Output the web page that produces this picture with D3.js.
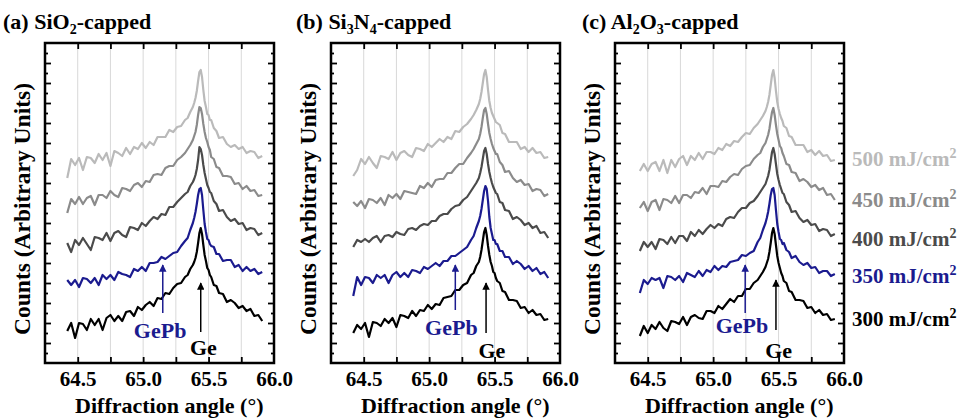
<!DOCTYPE html>
<html>
<head>
<meta charset="utf-8">
<script src="https://cdn.jsdelivr.net/npm/d3@7"></script>
<style>
  html, body { margin: 0; padding: 0; background: #fff; }
  svg { display: block; }
  svg text { font-family: "Liberation Serif", "DejaVu Serif", serif; font-weight: bold; }
</style>
</head>
<body>
<div id="chart"></div>
<script>
// ---- data -------------------------------------------------------------
// diffraction angle grids (deg)
var anglesAB = [
  64.42, 64.45, 64.48, 64.51, 64.54, 64.57, 64.60, 64.63, 64.66, 64.69,
  64.72, 64.75, 64.78, 64.81, 64.84, 64.87, 64.90, 64.93, 64.96, 64.99,
  65.02, 65.05, 65.08, 65.11, 65.14, 65.17, 65.20, 65.23, 65.26, 65.29,
  65.32, 65.34, 65.36, 65.38, 65.39, 65.40, 65.41, 65.42, 65.43, 65.44,
  65.45, 65.46, 65.47, 65.48, 65.49, 65.50, 65.51, 65.52, 65.54, 65.56,
  65.58, 65.61, 65.64, 65.67, 65.70, 65.73, 65.76, 65.79, 65.82, 65.85,
  65.88, 65.91];
var anglesC = [
  64.44, 64.47, 64.50, 64.53, 64.56, 64.59, 64.62, 64.65, 64.68, 64.71,
  64.74, 64.77, 64.80, 64.83, 64.86, 64.89, 64.92, 64.95, 64.98, 65.01,
  65.04, 65.07, 65.10, 65.13, 65.16, 65.19, 65.22, 65.25, 65.28, 65.31,
  65.34, 65.36, 65.38, 65.40, 65.41, 65.42, 65.43, 65.44, 65.45, 65.46,
  65.47, 65.48, 65.49, 65.50, 65.51, 65.52, 65.53, 65.54, 65.56, 65.58,
  65.60, 65.63, 65.66, 65.69, 65.72, 65.75, 65.78, 65.81, 65.84, 65.87,
  65.90, 65.93];

var fluences = [300, 350, 400, 450, 500];   // mJ/cm2

// (a) SiO2-capped, counts (arb.) above each trace's own baseline
var sio2_300 = [
  -0.3, 0.5, -1.0, 0.5, 0.4, -0.2, 0.9, 0.3, 0.9, -0.2,
  1.0, 1.3, 0.7, 1.2, 0.7, 1.6, 1.7, 1.2, 2.1, 1.8,
  2.3, 2.6, 2.2, 3.0, 2.9, 3.5, 3.4, 4.0, 4.4, 4.5,
  5.1, 5.3, 5.9, 6.3, 6.6, 7.0, 7.6, 8.5, 9.5, 10.0,
  9.4, 8.3, 7.3, 6.7, 6.0, 5.8, 5.3, 5.1, 4.3, 4.2,
  3.5, 3.4, 2.6, 2.8, 2.5, 2.0, 2.2, 1.7, 1.9, 1.2,
  1.3, 0.7];
var sio2_350 = [
  0.3, -0.2, 0.3, -0.4, 0.5, 0.4, 0.0, 0.5, -0.2, 0.8,
  0.4, 0.8, 0.3, 1.1, 0.9, 0.8, 0.6, 1.4, 1.2, 1.6,
  1.2, 2.0, 2.0, 2.1, 2.6, 2.4, 2.7, 3.0, 3.1, 3.7,
  4.2, 4.5, 5.3, 6.0, 6.5, 7.1, 7.9, 8.8, 9.4, 9.5,
  8.8, 7.3, 5.9, 5.1, 4.4, 4.3, 3.9, 3.7, 3.6, 2.9,
  2.9, 2.2, 2.3, 2.3, 1.6, 1.8, 1.2, 1.6, 1.2, 1.4,
  0.9, 1.1];
var sio2_400 = [
  0.2, -0.7, 0.5, 0.0, 0.7, 0.1, -0.5, 0.8, 0.7, 0.5,
  1.2, 0.4, 1.2, 1.4, 1.0, 0.8, 1.8, 1.7, 1.5, 2.2,
  1.9, 2.4, 2.8, 2.6, 3.1, 3.0, 3.8, 3.8, 4.3, 4.7,
  5.1, 5.3, 5.9, 6.3, 6.6, 7.0, 7.6, 8.5, 9.8, 9.6,
  9.0, 8.0, 7.2, 6.6, 6.0, 5.7, 5.3, 5.2, 4.4, 4.1,
  3.4, 3.5, 2.8, 2.4, 2.6, 2.1, 2.2, 1.5, 1.7, 1.6,
  1.0, 1.2];
var sio2_450 = [
  -1.0, 0.4, -0.1, 0.6, -0.1, 0.5, 0.7, -0.2, 0.8, 0.8,
  0.5, 1.2, 0.8, 0.6, 1.5, 1.4, 1.2, 1.8, 2.0, 1.6,
  2.2, 2.1, 2.8, 2.9, 2.8, 3.5, 3.7, 3.7, 4.3, 4.6,
  5.0, 5.4, 5.8, 6.3, 6.7, 7.1, 7.8, 8.8, 9.6, 9.5,
  8.9, 7.9, 7.1, 6.5, 6.1, 5.6, 5.3, 4.6, 4.4, 3.6,
  3.5, 2.7, 2.7, 2.6, 1.9, 2.0, 1.4, 1.7, 1.2, 1.3,
  0.7, 0.8];
var sio2_500 = [
  -1.5, 0.4, -0.2, 0.5, -0.7, 0.6, 0.5, 0.0, 0.9, 0.3,
  1.0, -0.3, 1.2, 1.0, 0.7, 1.5, 0.9, 1.6, 1.4, 2.0,
  1.5, 2.1, 1.8, 2.6, 2.6, 2.6, 3.3, 3.1, 3.6, 3.7,
  4.3, 4.5, 5.1, 5.6, 6.0, 6.5, 7.2, 8.2, 9.1, 9.3,
  8.6, 7.3, 6.2, 5.6, 4.9, 4.8, 4.3, 4.3, 3.5, 3.2,
  2.5, 2.6, 1.9, 1.6, 1.8, 1.4, 1.6, 1.0, 1.2, 1.1,
  0.5, 0.7];

// (b) Si3N4-capped
var si3n4_300 = [
  -0.5, 0.3, -0.1, 0.5, -0.9, 0.6, 0.5, 0.2, 0.9, 0.5,
  1.0, 0.1, 1.3, 1.2, 1.0, 1.7, 1.2, 1.8, 1.7, 2.3,
  1.9, 2.4, 2.3, 3.0, 3.1, 3.2, 3.8, 3.8, 4.3, 4.5,
  5.3, 5.5, 6.2, 6.6, 7.1, 7.8, 8.7, 9.6, 10.0, 9.3,
  8.2, 7.3, 6.6, 6.2, 5.6, 5.5, 5.0, 4.7, 4.5, 3.7,
  3.6, 2.8, 2.8, 2.7, 2.0, 2.1, 1.5, 1.8, 1.3, 1.4,
  0.8, 0.9];
var si3n4_350 = [
  -1.5, 0.4, -0.4, 0.4, 0.3, -0.2, 0.6, 0.3, 0.6, -0.2,
  0.6, 0.9, 0.4, 0.8, 0.4, 1.1, 1.0, 0.8, 1.4, 1.2,
  1.5, 1.8, 1.5, 2.0, 2.0, 2.5, 2.5, 2.8, 3.1, 3.4,
  4.1, 4.5, 5.3, 6.0, 6.5, 7.2, 8.1, 9.0, 9.5, 9.2,
  8.0, 6.4, 5.3, 4.7, 4.1, 4.1, 3.7, 3.7, 3.0, 3.0,
  2.4, 2.4, 1.7, 2.0, 1.7, 1.2, 1.5, 1.0, 1.3, 0.7,
  0.9, 0.3];
var si3n4_400 = [
  -0.4, 0.3, 0.1, 0.4, 0.1, 0.5, 0.7, 0.1, 0.7, 0.8,
  0.6, 1.1, 0.9, 0.8, 1.4, 1.5, 1.3, 1.7, 1.9, 1.8,
  2.2, 2.2, 2.7, 2.9, 2.9, 3.4, 3.7, 3.8, 4.3, 4.6,
  5.2, 5.6, 6.0, 6.5, 7.0, 7.6, 8.4, 9.2, 9.5, 8.9,
  7.9, 7.1, 6.5, 6.0, 5.6, 5.3, 5.0, 4.9, 4.1, 4.0,
  3.3, 3.2, 2.4, 2.6, 2.3, 1.8, 2.0, 1.5, 1.7, 1.0,
  1.1, 0.5];
var si3n4_450 = [
  0.3, -0.1, 0.4, -0.3, 0.6, 0.5, 0.2, 0.7, 0.0, 1.0,
  0.7, 1.1, 0.6, 1.4, 1.3, 1.2, 1.1, 1.9, 1.7, 2.2,
  1.8, 2.5, 2.6, 2.6, 3.2, 3.2, 3.7, 4.1, 4.1, 4.7,
  5.2, 5.6, 6.1, 6.6, 7.1, 7.8, 8.7, 9.5, 9.7, 9.1,
  8.1, 7.2, 6.6, 6.1, 5.7, 5.4, 5.1, 5.1, 4.3, 4.0,
  3.3, 3.4, 2.7, 2.3, 2.5, 2.0, 2.1, 1.4, 1.6, 1.5,
  0.9, 1.1];
var si3n4_500 = [
  -1.3, -0.7, 0.4, -0.1, 0.6, 0.0, -0.5, 0.7, 0.6, 0.4,
  1.1, 0.3, 1.0, 1.2, 0.8, 0.6, 1.5, 1.4, 1.2, 1.9,
  1.6, 2.0, 2.4, 2.1, 2.6, 2.4, 3.2, 3.1, 3.6, 3.9,
  4.4, 4.8, 5.3, 5.9, 6.4, 7.1, 8.0, 8.9, 9.3, 8.6,
  7.3, 6.2, 5.5, 5.0, 4.7, 4.4, 4.1, 4.0, 3.8, 3.0,
  2.9, 2.1, 2.1, 2.1, 1.4, 1.6, 1.1, 1.5, 1.0, 1.1,
  0.5, 0.6];

// (c) Al2O3-capped
var al2o3_300 = [
  -0.6, 0.4, -0.3, 0.5, 0.1, 0.8, 0.2, -0.1, 0.9, 0.8,
  0.6, 1.3, 0.5, 1.3, 1.5, 1.2, 1.1, 1.9, 1.9, 1.7,
  2.4, 2.1, 2.6, 3.1, 2.8, 3.4, 3.4, 4.1, 4.1, 4.7,
  5.0, 5.4, 5.8, 6.3, 6.7, 7.1, 7.8, 8.7, 9.7, 10.2,
  9.6, 8.5, 7.4, 6.7, 6.2, 5.7, 5.4, 4.9, 4.7, 3.9,
  3.8, 3.0, 3.0, 2.9, 2.2, 2.3, 1.7, 2.0, 1.5, 1.6,
  1.0, 1.1];
var al2o3_350 = [
  -1.0, 0.3, -0.1, 0.5, 0.3, 0.5, -0.5, 0.7, 0.6, 0.3,
  0.7, 0.1, 1.0, 0.8, 0.6, 1.2, 0.7, 1.3, 1.1, 1.7,
  1.3, 1.7, 1.6, 2.1, 2.2, 2.3, 2.8, 2.7, 3.0, 3.2,
  4.1, 4.5, 5.3, 6.0, 6.5, 7.1, 7.9, 8.8, 9.4, 9.5,
  8.8, 7.3, 5.9, 5.1, 4.4, 4.3, 3.9, 4.0, 3.3, 3.1,
  2.5, 2.7, 2.1, 1.8, 2.0, 1.5, 1.6, 1.0, 1.2, 1.2,
  0.7, 0.9];
var al2o3_400 = [
  -0.5, 0.4, -0.1, 0.4, -0.3, 0.7, 0.6, 0.2, 0.9, 0.3,
  1.0, 1.0, 0.5, 1.4, 1.0, 1.6, 1.2, 1.7, 2.1, 1.8,
  2.2, 2.0, 2.7, 2.9, 2.8, 3.4, 3.8, 3.8, 4.3, 4.5,
  5.0, 5.4, 5.8, 6.2, 6.6, 7.0, 7.6, 8.5, 9.4, 9.8,
  9.2, 8.2, 7.2, 6.6, 6.1, 5.7, 5.3, 5.2, 4.4, 4.1,
  3.4, 3.5, 2.8, 2.4, 2.6, 2.1, 2.2, 1.5, 1.7, 1.6,
  1.0, 1.2];
var al2o3_450 = [
  -0.2, 0.4, -0.5, 0.4, 0.6, -0.4, 0.7, 0.6, 0.3, 1.0,
  0.3, 1.1, 1.1, 0.8, 1.4, 1.3, 1.8, 1.2, 2.0, 2.0,
  1.9, 2.5, 2.4, 2.9, 3.2, 3.1, 3.7, 4.0, 4.1, 4.7,
  5.1, 5.3, 5.9, 6.3, 6.7, 7.1, 7.7, 8.6, 9.4, 9.8,
  9.1, 8.1, 7.2, 6.6, 6.0, 5.8, 5.3, 5.0, 4.2, 4.1,
  3.4, 3.3, 2.5, 2.7, 2.4, 1.9, 2.1, 1.6, 1.8, 1.1,
  1.2, 0.6];
var al2o3_500 = [
  -0.3, 0.4, -0.3, 0.4, 0.6, -0.3, 0.8, -0.5, 0.8, 0.1,
  0.9, 1.2, 0.3, 1.2, 0.8, 1.5, 0.9, 1.6, 1.6, 1.4,
  2.0, 1.8, 2.4, 2.2, 2.7, 2.6, 3.1, 3.5, 3.4, 4.0,
  4.4, 4.8, 5.2, 5.7, 6.1, 6.6, 7.3, 8.3, 9.3, 9.8,
  9.0, 7.7, 6.6, 5.9, 5.4, 5.0, 4.7, 4.2, 4.0, 3.2,
  3.1, 2.3, 2.3, 2.3, 1.6, 1.8, 1.3, 1.7, 1.2, 1.3,
  0.7, 0.8];

// vertical stacking offset of each trace (same order as fluences)
var offsetsA = [3.5, 8.0, 11.8, 16.0, 20.0];
var offsetsB = [3.5, 8.2, 12.0, 15.8, 20.0];
var offsetsC = [3.3, 8.0, 11.7, 15.7, 19.5];

// annotation arrows: [angle, y from, y to] and label [angle, y]
var gepbArrow = [[65.15, 5.0, 9.8], [65.20, 5.3, 9.8], [65.245, 5.0, 9.8]];
var geArrow   = [[65.44, 3.1, 8.0], [65.435, 3.0, 8.0], [65.48, 3.3, 8.3]];
var gepbLabel = [[65.13, 2.5], [65.17, 2.8], [65.22, 3.0]];
var geLabel   = [[65.46, 0.8], [65.48, 0.5], [65.50, 0.5]];

// axis ticks
var xTickLabels = [64.5, 65.0, 65.5, 66.0];
var xMinorTicks = [64.5, 64.75, 65.0, 65.25, 65.5, 65.75];
var xDomain = [64.25, 66.0];
var yDomain = [0, 32];

(function () {
  'use strict';

  var COL = {
    series: ['#000000', '#1b1b8f', '#4b4b4b', '#8b8b8b', '#bababa'],
    grid:   '#d9d9d9',
    frame:  '#000000',
    gepb:   '#1b1b8f',
    ge:     '#000000'
  };

  var W = 964, H = 420;
  var TOP = 43, BOTTOM = 363, PW = 229;

  var panels = [
    { left: 45,  titleDx: -42, title: ['(a) SiO', '2', '-capped'],
      angles: anglesAB, offsets: offsetsA,
      series: [sio2_300, sio2_350, sio2_400, sio2_450, sio2_500] },
    { left: 331, titleDx: -35, title: ['(b) Si', '3', 'N', '4', '-capped'],
      angles: anglesAB, offsets: offsetsB,
      series: [si3n4_300, si3n4_350, si3n4_400, si3n4_450, si3n4_500] },
    { left: 615, titleDx: -33, title: ['(c) Al', '2', 'O', '3', '-capped'],
      angles: anglesC, offsets: offsetsC,
      series: [al2o3_300, al2o3_350, al2o3_400, al2o3_450, al2o3_500] }
  ];

  var svg = d3.select('#chart').append('svg')
    .attr('width', W).attr('height', H);

  var defs = svg.append('defs');
  function marker(id, color) {
    defs.append('marker')
      .attr('id', id)
      .attr('viewBox', '0 0 10 10')
      .attr('refX', 9).attr('refY', 5)
      .attr('markerWidth', 5).attr('markerHeight', 5)
      .attr('orient', 'auto')
      .append('path').attr('d', 'M0,0 L10,5 L0,10 z').attr('fill', color);
  }
  marker('head-gepb', COL.gepb);
  marker('head-ge', COL.ge);

  var y = d3.scaleLinear().domain(yDomain).range([BOTTOM, TOP]);
  var yMajor = d3.range(2, 32, 2);
  var yMinor = d3.range(1, 32, 2);

  panels.forEach(function (p, pi) {
    var x = d3.scaleLinear().domain(xDomain).range([p.left, p.left + PW]);
    var g = svg.append('g');

    // vertical grid
    xMinorTicks.forEach(function (t) {
      g.append('line')
        .attr('x1', x(t)).attr('x2', x(t))
        .attr('y1', TOP).attr('y2', BOTTOM)
        .attr('stroke', COL.grid).attr('stroke-width', 1);
    });

    // traces, highest fluence drawn first
    d3.range(p.series.length - 1, -1, -1).forEach(function (si) {
      var off = p.offsets[si];
      g.append('path')
        .datum(p.series[si])
        .attr('fill', 'none')
        .attr('stroke', COL.series[si])
        .attr('stroke-width', 2.2)
        .attr('stroke-linejoin', 'round')
        .attr('d', d3.line()
          .x(function (d, i) { return x(p.angles[i]); })
          .y(function (d) { return y(d + off); }));
    });

    // annotations
    var a = gepbArrow[pi], b = geArrow[pi];
    g.append('line')
      .attr('x1', x(a[0])).attr('x2', x(a[0]))
      .attr('y1', y(a[1])).attr('y2', y(a[2]))
      .attr('stroke', COL.gepb).attr('stroke-width', 1.5)
      .attr('marker-end', 'url(#head-gepb)');
    g.append('line')
      .attr('x1', x(b[0])).attr('x2', x(b[0]))
      .attr('y1', y(b[1])).attr('y2', y(b[2]))
      .attr('stroke', COL.ge).attr('stroke-width', 1.5)
      .attr('marker-end', 'url(#head-ge)');
    g.append('text')
      .attr('x', x(gepbLabel[pi][0])).attr('y', y(gepbLabel[pi][1]))
      .attr('text-anchor', 'middle').style('font-size', '22px')
      .attr('fill', COL.gepb).text('GePb');
    g.append('text')
      .attr('x', x(geLabel[pi][0])).attr('y', y(geLabel[pi][1]))
      .attr('text-anchor', 'middle').style('font-size', '22px')
      .attr('fill', COL.ge).text('Ge');

    // ticks (inward) on all four sides
    function styleTicks(ax) {
      ax.select('.domain').remove();
      ax.selectAll('.tick line').attr('stroke', COL.frame).attr('stroke-width', 1.8);
    }
    g.append('g').attr('transform', 'translate(0,' + BOTTOM + ')')
      .call(d3.axisBottom(x).tickValues(xMinorTicks).tickSize(-6).tickFormat(''))
      .call(styleTicks);
    g.append('g').attr('transform', 'translate(0,' + TOP + ')')
      .call(d3.axisTop(x).tickValues(xMinorTicks).tickSize(-6).tickFormat(''))
      .call(styleTicks);
    [[yMajor, 6], [yMinor, 3]].forEach(function (set) {
      g.append('g').attr('transform', 'translate(' + p.left + ',0)')
        .call(d3.axisLeft(y).tickValues(set[0]).tickSize(-set[1]).tickFormat(''))
        .call(styleTicks);
      g.append('g').attr('transform', 'translate(' + (p.left + PW) + ',0)')
        .call(d3.axisRight(y).tickValues(set[0]).tickSize(-set[1]).tickFormat(''))
        .call(styleTicks);
    });

    // tick labels
    g.append('g').attr('transform', 'translate(0,' + BOTTOM + ')')
      .call(d3.axisBottom(x).tickValues(xTickLabels).tickSize(0).tickPadding(8)
        .tickFormat(d3.format('.1f')))
      .call(function (ax) {
        ax.select('.domain').remove();
        ax.attr('font-family', null).attr('font-size', null);
        ax.selectAll('text').attr('fill', '#000').style('font-size', '21px');
      });

    // frame
    g.append('rect')
      .attr('x', p.left).attr('y', TOP)
      .attr('width', PW).attr('height', BOTTOM - TOP)
      .attr('fill', 'none').attr('stroke', COL.frame).attr('stroke-width', 2.5);

    // axis titles
    g.append('text')
      .attr('x', x(65.2)).attr('y', 413)
      .attr('text-anchor', 'middle').style('font-size', '22px')
      .text('Diffraction angle (\u00b0)');
    g.append('text')
      .attr('transform', 'translate(' + (p.left - 15) + ',' + ((TOP + BOTTOM) / 2 + 6) + ') rotate(-90)')
      .attr('text-anchor', 'middle').style('font-size', '23.5px')
      .text('Counts (Arbitrary Units)');

    // panel title with subscripts
    var t = g.append('text')
      .attr('x', p.left + p.titleDx).attr('y', 29)
      .style('font-size', '22px');
    p.title.forEach(function (part, k) {
      var sub = k % 2 === 1;
      var prevSub = k > 0 && (k - 1) % 2 === 1;
      t.append('tspan')
        .style('font-size', sub ? '14px' : '22px')
        .attr('dy', sub ? 5 : (prevSub ? -5 : 0))
        .text(part);
    });
  });

  // legend
  var legendBaseline = [326, 283, 246, 207, 166];
  fluences.forEach(function (f, i) {
    var t = svg.append('text')
      .attr('x', 852).attr('y', legendBaseline[i])
      .style('font-size', '21px')
      .attr('fill', COL.series[i]);
    t.append('tspan').text(f + ' mJ/cm');
    t.append('tspan').style('font-size', '14px').attr('dy', -8).text('2');
  });
}());
</script>
</body>
</html>
